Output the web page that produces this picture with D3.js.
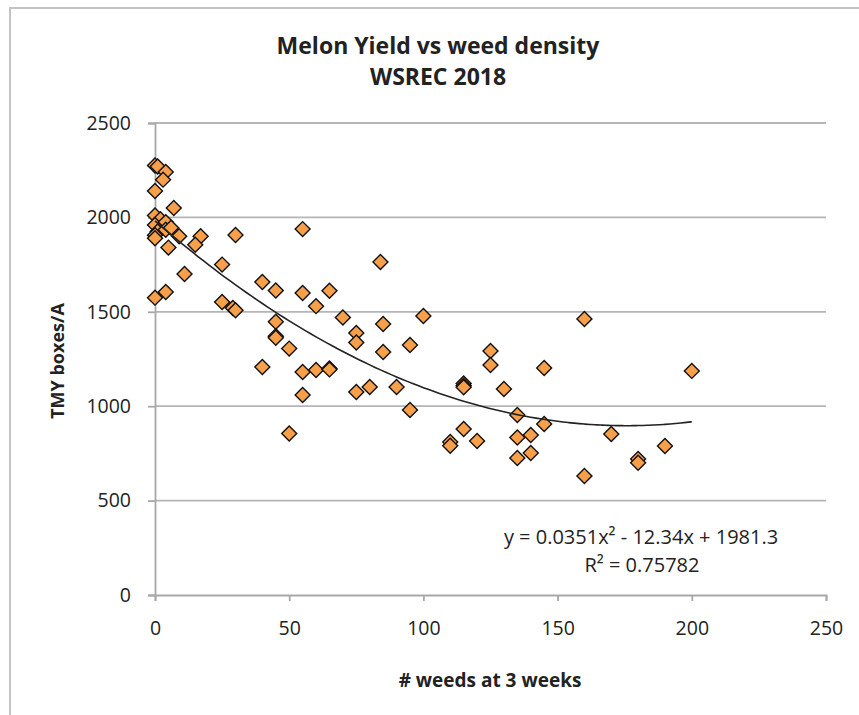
<!DOCTYPE html>
<html>
<head>
<meta charset="utf-8">
<script src="https://cdn.jsdelivr.net/npm/d3@7"></script>
<style>
  body { margin: 0; background: #fff; }
  svg text { font-family: "Open Sans", "Liberation Sans", sans-serif; fill: #222; }
</style>
</head>
<body>
<svg id="chart" width="859" height="715"></svg>
<script>
// weeds at 3 weeks / TMY boxes per acre
const weeds = [0, 1, 4, 3, 0, 7, 0, 2, 0, 4, 1, 0, 4, 0, 6, 9, 17, 15, 5, 30,
    25, 11, 40, 45, 0, 4, 25, 29, 30, 55, 84, 55, 65, 60, 70, 85, 100, 75, 75, 85,
    95, 45, 45, 45, 50, 40, 55, 60, 65, 65, 55, 75, 80, 90, 95, 50, 115, 115, 115, 125,
    125, 130, 115, 110, 110, 120, 135, 135, 160, 145, 200, 145, 140, 170, 190, 135, 140, 180, 180, 160];
const yieldVals = [2275, 2270, 2240, 2200, 2140, 2050, 2010, 1990, 1960, 1975, 1925, 1905, 1935, 1890, 1945, 1900, 1900, 1855, 1840, 1907,
    1750, 1700, 1658, 1613, 1575, 1605, 1552, 1520, 1508, 1938, 1764, 1600, 1611, 1530, 1470, 1435, 1478, 1388, 1337, 1287,
    1324, 1447, 1370, 1362, 1305, 1208, 1181, 1192, 1200, 1195, 1059, 1075, 1102, 1102, 980, 855, 1120, 1108, 1100, 1292,
    1218, 1091, 879, 810, 790, 816, 953, 834, 1462, 1202, 1187, 906, 847, 853, 789, 726, 752, 720, 700, 630];

const xTicks = [0, 50, 100, 150, 200, 250];
const yTicks = [0, 500, 1000, 1500, 2000, 2500];
// trendline coefficients from the chart label
const trendCoef = [1981.3, -12.34, 0.0351];

const svg = d3.select("#chart");

// outer frame
svg.append("path")
    .attr("d", "M10,715 L10,8 L859,8")
    .attr("fill", "none")
    .attr("stroke", "#c4c4c4")
    .attr("stroke-width", 2);

const x = d3.scaleLinear().domain([0, 250]).range([155, 826]);
const y = d3.scaleLinear().domain([0, 2500]).range([595, 123]);

// gridlines
svg.append("g")
    .selectAll("line")
    .data(yTicks.slice(1))
    .enter()
    .append("line")
    .attr("x1", x(0)).attr("x2", x(250))
    .attr("y1", d => y(d)).attr("y2", d => y(d))
    .attr("stroke", "#b5b5b5")
    .attr("stroke-width", 1.8);

// y axis
const yAxis = svg.append("g")
    .attr("transform", "translate(" + x(0) + ",0)")
    .call(d3.axisLeft(y).tickValues(yTicks).tickSize(7).tickPadding(17).tickFormat(d3.format("d")));
yAxis.selectAll("path, line").attr("stroke", "#a8a8a8").attr("stroke-width", 1.8);
yAxis.selectAll("text").attr("font-size", 19.5).attr("font-family", "Open Sans").attr("fill", "#333");

// x axis
const xAxis = svg.append("g")
    .attr("transform", "translate(0," + y(0) + ")")
    .call(d3.axisBottom(x).tickValues(xTicks).tickSize(6).tickPadding(20).tickFormat(d3.format("d")));
xAxis.selectAll("path, line").attr("stroke", "#a8a8a8").attr("stroke-width", 1.8);
xAxis.selectAll("text").attr("font-size", 19.5).attr("font-family", "Open Sans").attr("fill", "#333");

// points
const pts = weeds.map((w, i) => ({ w: w, v: yieldVals[i] }));
svg.append("g")
    .selectAll("path")
    .data(pts)
    .enter()
    .append("path")
    .attr("d", d3.symbol().type(d3.symbolSquare).size(112))
    .attr("transform", d => "translate(" + x(d.w) + "," + y(d.v) + ") rotate(45)")
    .attr("fill", "#f89f49")
    .attr("stroke", "#111")
    .attr("stroke-width", 1.4);

// polynomial trendline
const trendX = d3.range(0, 201, 2);
const line = d3.line()
    .x(d => x(d))
    .y(d => y(trendCoef[0] + trendCoef[1] * d + trendCoef[2] * d * d))
    .curve(d3.curveBasis);
svg.append("path")
    .datum(trendX)
    .attr("d", line)
    .attr("fill", "none")
    .attr("stroke", "#222")
    .attr("stroke-width", 1.6);

// titles
const title = svg.append("text")
    .attr("text-anchor", "middle")
    .attr("font-weight", "bold")
    .attr("font-size", 23);
title.append("tspan").attr("x", 438).attr("y", 54).text("Melon Yield vs weed density");
title.append("tspan").attr("x", 438).attr("y", 85).text("WSREC 2018");

svg.append("text")
    .attr("transform", "translate(64,361) rotate(-90)")
    .attr("text-anchor", "middle")
    .attr("font-weight", "bold")
    .attr("font-size", 18)
    .text("TMY boxes/A");

svg.append("text")
    .attr("x", 490).attr("y", 687)
    .attr("text-anchor", "middle")
    .attr("font-weight", "bold")
    .attr("font-size", 19)
    .text("# weeds at 3 weeks");

// equation label
const eq = svg.append("text")
    .attr("text-anchor", "middle")
    .attr("font-size", 20)
    .attr("fill", "#333");
eq.append("tspan").attr("x", 641).attr("y", 544).text("y = 0.0351x² - 12.34x + 1981.3");
eq.append("tspan").attr("x", 642).attr("y", 572).text("R² = 0.75782");
</script>
</body>
</html>
